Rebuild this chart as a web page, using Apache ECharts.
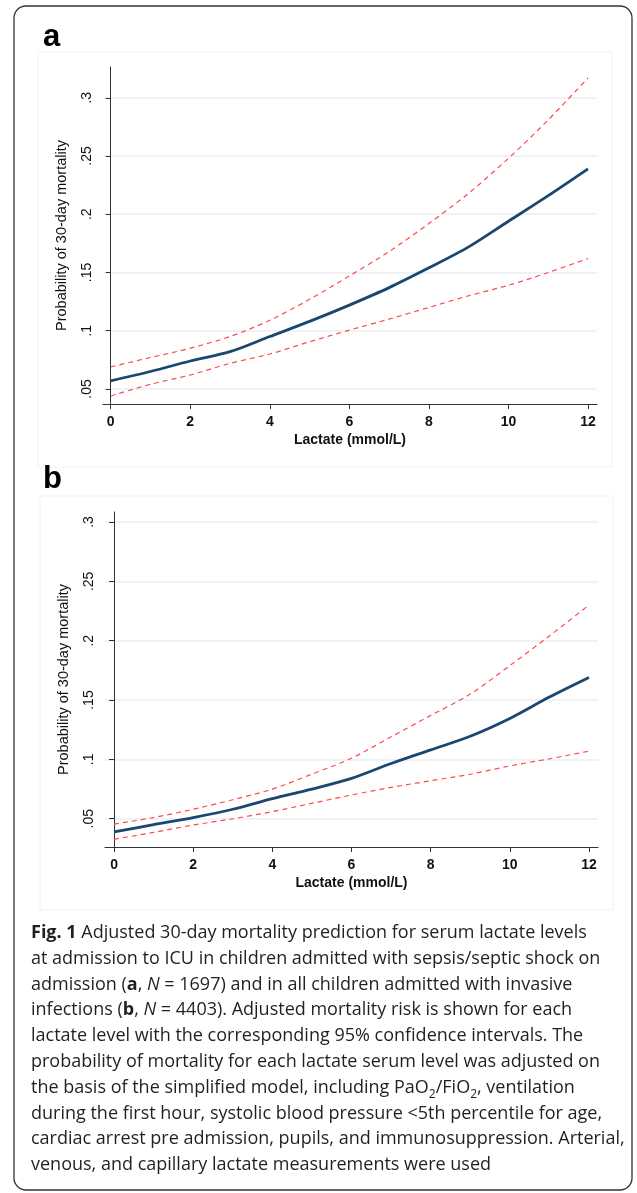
<!DOCTYPE html>
<html lang="en">
<head>
    <meta charset="UTF-8">
    <title>Fig. 1 Lactate mortality</title>
    <script src="https://cdn.jsdelivr.net/npm/echarts@6/dist/echarts.min.js"></script>
    <style>
        html, body { margin: 0; padding: 0; background: #fff; }
        #main { width: 637px; height: 1193px; }
    </style>
</head>
<body>
<div id="main"></div>
<script type="text/javascript">
    // lactate levels (mmol/L)
    var lactate = [0, 1, 2, 3, 4, 5, 6, 7, 8, 9, 10, 11, 12];
    var xTicks = [0, 2, 4, 6, 8, 10, 12];
    var yTicks = [0.05, 0.1, 0.15, 0.2, 0.25, 0.3];
    var yTickLabels = ['.05', '.1', '.15', '.2', '.25', '.3'];

    // panel a: sepsis/septic shock
    var aPred  = [0.057, 0.065, 0.074, 0.082, 0.095, 0.108, 0.122, 0.137, 0.154, 0.172, 0.194, 0.216, 0.239];
    var aUpper = [0.069, 0.077, 0.085, 0.095, 0.109, 0.127, 0.147, 0.168, 0.192, 0.218, 0.248, 0.281, 0.317];
    var aLower = [0.044, 0.054, 0.062, 0.072, 0.080, 0.0905, 0.1005, 0.110, 0.120, 0.130, 0.139, 0.150, 0.162];

    // panel b: all invasive infections
    var bPred  = [0.039, 0.045, 0.051, 0.058, 0.067, 0.075, 0.084, 0.0965, 0.108, 0.1195, 0.1345, 0.1525, 0.169];
    var bUpper = [0.0455, 0.051, 0.058, 0.066, 0.075, 0.0876, 0.101, 0.119, 0.137, 0.155, 0.179, 0.204, 0.230];
    var bLower = [0.0327, 0.0385, 0.0447, 0.050, 0.056, 0.063, 0.070, 0.0764, 0.082, 0.0875, 0.0945, 0.1005, 0.107];

    var captionLines = [
        '{fb|Fig. 1} Adjusted 30-day mortality prediction for serum lactate levels',
        'at admission to ICU in children admitted with sepsis/septic shock on',
        'admission ({fb|a}, {fi|N} = 1697) and in all children admitted with invasive',
        'infections ({fb|b}, {fi|N} = 4403). Adjusted mortality risk is shown for each',
        'lactate level with the corresponding 95% confidence intervals. The',
        'probability of mortality for each lactate serum level was adjusted on',
        'the basis of the simplified model, including PaO{sub|2}/FiO{sub|2}, ventilation',
        'during the first hour, systolic blood pressure <5th percentile for age,',
        'cardiac arrest pre admission, pupils, and immunosuppression. Arterial,',
        'venous, and capillary lactate measurements were used'
    ];

    var stataFont = 'Liberation Sans, Arial, Helvetica, sans-serif';
    var capFont = 'Open Sans, Noto Sans, sans-serif';
    var capSize = 18;
    var navy = '#1a476f';
    var red = '#ff4a4a';

    function pairs(ys) {
        return lactate.map(function (x, i) { return [x, ys[i]]; });
    }

    function yLabel(v) {
        for (var i = 0; i < yTicks.length; i++) {
            if (Math.abs(yTicks[i] - v) < 1e-9) return yTickLabels[i];
        }
        return '';
    }

    function xAxis(idx, min, max) {
        return {
            type: 'value', gridIndex: idx, min: min, max: max,
            name: 'Lactate (mmol/L)', nameLocation: 'middle', nameGap: 29,
            nameTextStyle: { fontFamily: stataFont, fontSize: 14, fontWeight: 'bold', color: '#111' },
            axisLine: { show: true, lineStyle: { color: '#333', width: 1 } },
            axisTick: { show: true, length: 5, customValues: xTicks, lineStyle: { color: '#333' } },
            axisLabel: { customValues: xTicks, margin: 11, fontFamily: stataFont, fontSize: 14,
                fontWeight: 'bold', color: '#111' },
            splitLine: { show: false }
        };
    }

    function yAxis(idx, min, max) {
        return {
            type: 'value', gridIndex: idx, min: min, max: max,
            name: 'Probability of 30-day mortality', nameLocation: 'middle', nameGap: 34, nameRotate: 90,
            nameTextStyle: { fontFamily: stataFont, fontSize: 14.5, color: '#111' },
            axisLine: { show: true, lineStyle: { color: '#333', width: 1 } },
            axisTick: { show: true, length: 5, customValues: yTicks, lineStyle: { color: '#333' } },
            axisLabel: { customValues: yTicks, rotate: 90, margin: 9, fontFamily: stataFont, fontSize: 14,
                color: '#111', formatter: yLabel },
            splitLine: { show: true, lineStyle: { color: '#e8f0f2', width: 1.5 } }
        };
    }

    function line(name, idx, ys, main) {
        return {
            type: 'line', name: name, xAxisIndex: idx, yAxisIndex: idx,
            data: pairs(ys), smooth: 0.3, showSymbol: false, silent: true,
            z: main ? 3 : 2,
            lineStyle: main ? { color: navy, width: 2.8 } : { color: red, width: 1.2, type: [5, 4] }
        };
    }

    var myChart = echarts.init(document.getElementById('main'), null, { renderer: 'canvas' });

    var option = {
        backgroundColor: '#fff',
        animation: false,
        grid: [
            { left: 103, top: 67, width: 494, height: 337 },
            { left: 105, top: 512, width: 493, height: 335 }
        ],
        xAxis: [xAxis(0, -0.194, 12.226), xAxis(1, -0.228, 12.228)],
        yAxis: [yAxis(0, 0.0371, 0.3264), yAxis(1, 0.0262, 0.3084)],
        series: [
            line('Upper 95% CI', 0, aUpper, false),
            line('Lower 95% CI', 0, aLower, false),
            line('Adjusted mortality', 0, aPred, true),
            line('Upper 95% CI', 1, bUpper, false),
            line('Lower 95% CI', 1, bLower, false),
            line('Adjusted mortality', 1, bPred, true)
        ],
        graphic: [
            // outer frame
            { type: 'rect', shape: { x: 14, y: 6, width: 618, height: 1184, r: 12 },
              style: { fill: 'none', stroke: '#333', lineWidth: 1.3 }, z: 0 },
            // stata graph regions
            { type: 'rect', shape: { x: 38, y: 52, width: 574, height: 415 },
              style: { fill: 'none', stroke: '#eef3f5', lineWidth: 1 }, z: 0 },
            { type: 'rect', shape: { x: 40, y: 496, width: 573, height: 414 },
              style: { fill: 'none', stroke: '#eef3f5', lineWidth: 1 }, z: 0 },
            { type: 'text', x: 43, y: 22, style: { text: 'a', fontFamily: stataFont, fontSize: 31,
                fontWeight: 'bold', fill: '#000', verticalAlign: 'top' } },
            { type: 'text', x: 43, y: 464, style: { text: 'b', fontFamily: stataFont, fontSize: 31,
                fontWeight: 'bold', fill: '#000', verticalAlign: 'top' } },
            { type: 'text', x: 31, y: 920, style: {
                text: captionLines.join('\n'),
                fontFamily: capFont, fontSize: capSize, fill: '#231f20', lineHeight: 25.8,
                rich: {
                    fb: { fontFamily: capFont, fontSize: capSize, fontWeight: 'bold', fill: '#231f20', lineHeight: 25.8 },
                    fi: { fontFamily: capFont, fontSize: capSize, fontStyle: 'italic', fill: '#231f20', lineHeight: 25.8 },
                    sub: { fontFamily: capFont, fontSize: 12, fill: '#231f20', lineHeight: 25.8,
                        verticalAlign: 'bottom' }
                }
            } }
        ]
    };

    myChart.setOption(option);
</script>
</body>
</html>
